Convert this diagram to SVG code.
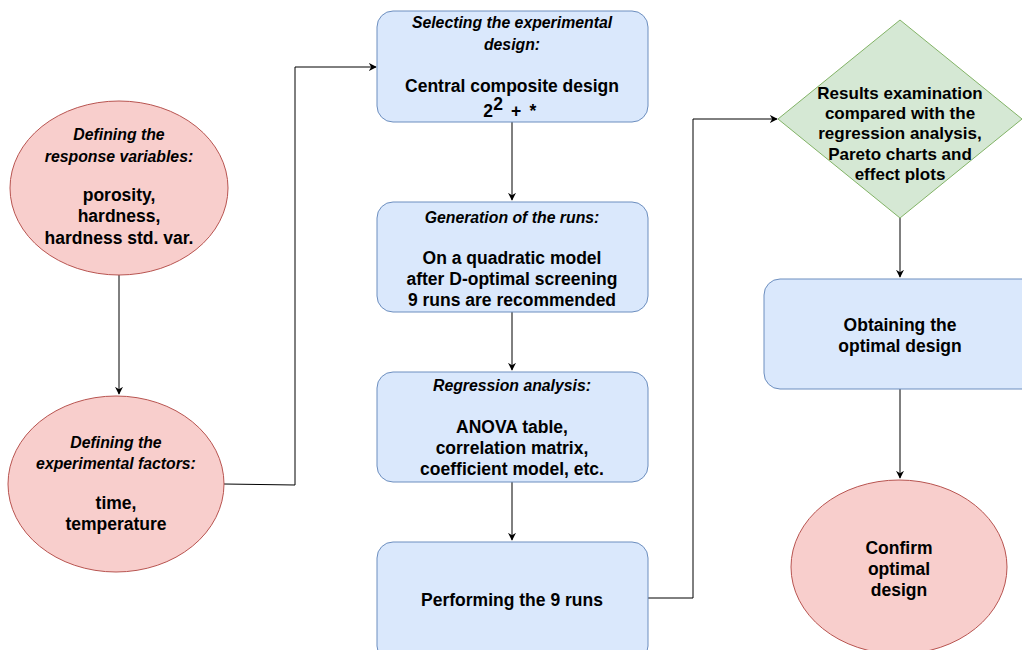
<svg xmlns="http://www.w3.org/2000/svg" width="1022" height="650" viewBox="0 0 1022 650">
  <style>
    .blue { fill: #dae8fc; stroke: #6c8ebf; stroke-width: 1; }
    .red { fill: #f8cecc; stroke: #b85450; stroke-width: 1; }
    .green { fill: #d5e8d4; stroke: #82b366; stroke-width: 1; }
    text { font-family: "Liberation Sans", Arial, Helvetica, sans-serif; font-weight: bold; font-size: 17.5px; fill: #000; text-anchor: middle; }
    .it { font-style: italic; font-size: 15.8px; }
    .dia { font-size: 17px; }
    .edge { fill: none; stroke: #000; stroke-width: 1; }
  </style>
  <defs>
    <marker id="arrow" viewBox="0 0 10 10" refX="9" refY="5" markerWidth="8" markerHeight="8" markerUnits="userSpaceOnUse" orient="auto">
      <path d="M0,0 L10,5 L0,10 L3,5 Z" fill="#000"/>
    </marker>
  </defs>
  <rect width="1022" height="650" fill="#fff"/>

  <g id="connectors">
    <path class="edge" d="M119,275 L119,394" marker-end="url(#arrow)"/>
    <path class="edge" d="M224,484 L295,485 L295,67 L376,67" marker-end="url(#arrow)"/>
    <path class="edge" d="M512,122 L512,200" marker-end="url(#arrow)"/>
    <path class="edge" d="M512,312 L512,370" marker-end="url(#arrow)"/>
    <path class="edge" d="M512,482 L512,540" marker-end="url(#arrow)"/>
    <path class="edge" d="M648,598 L693,598 L693,119 L777,119" marker-end="url(#arrow)"/>
    <path class="edge" d="M900,218 L900,277" marker-end="url(#arrow)"/>
    <path class="edge" d="M900,389 L900,478" marker-end="url(#arrow)"/>
  </g>

  <g id="response-variables">
    <ellipse class="red" cx="119" cy="188" rx="109" ry="87"/>
    <text class="it" x="119" y="140">Defining the</text>
    <text class="it" x="119" y="162">response variables:</text>
    <text x="119" y="201">porosity,</text>
    <text x="119" y="222">hardness,</text>
    <text x="119" y="244">hardness std. var.</text>
  </g>

  <g id="experimental-factors">
    <ellipse class="red" cx="116" cy="484" rx="108" ry="88"/>
    <text class="it" x="116" y="448">Defining the</text>
    <text class="it" x="116" y="469">experimental factors:</text>
    <text x="116" y="509">time,</text>
    <text x="116" y="530">temperature</text>
  </g>

  <g id="experimental-design">
    <rect class="blue" x="377" y="11" width="271" height="111" rx="16"/>
    <text class="it" x="512" y="28">Selecting the experimental</text>
    <text class="it" x="512" y="50">design:</text>
    <text x="512" y="92">Central composite design</text>
    <text x="488" y="117">2</text>
    <text x="498" y="110" font-size="11px">2</text>
    <text x="516" y="117">+</text>
    <text x="533" y="117">*</text>
  </g>

  <g id="runs-generation">
    <rect class="blue" x="377" y="202" width="271" height="110" rx="16"/>
    <text class="it" x="512" y="223">Generation of the runs:</text>
    <text x="512" y="264">On a quadratic model</text>
    <text x="512" y="285">after D-optimal screening</text>
    <text x="512" y="306">9 runs are recommended</text>
  </g>

  <g id="regression-analysis">
    <rect class="blue" x="377" y="372" width="271" height="110" rx="16"/>
    <text class="it" x="512" y="391">Regression analysis:</text>
    <text x="512" y="433">ANOVA table,</text>
    <text x="512" y="454">correlation matrix,</text>
    <text x="512" y="475">coefficient model, etc.</text>
  </g>

  <g id="performing-runs">
    <rect class="blue" x="377" y="542" width="271" height="120" rx="16"/>
    <text x="512" y="606">Performing the 9 runs</text>
  </g>

  <g id="results-examination">
    <polygon class="green" points="900,20 1022,119 900,218 778,119"/>
    <text class="dia" x="900" y="99">Results examination</text>
    <text class="dia" x="900" y="119">compared with the</text>
    <text class="dia" x="900" y="139">regression analysis,</text>
    <text class="dia" x="900" y="160">Pareto charts and</text>
    <text class="dia" x="900" y="180">effect plots</text>
  </g>

  <g id="optimal-design">
    <rect class="blue" x="764" y="279" width="280" height="110" rx="16"/>
    <text x="900" y="331">Obtaining the</text>
    <text x="900" y="352">optimal design</text>
  </g>

  <g id="confirm-design">
    <ellipse class="red" cx="899" cy="567" rx="108" ry="87"/>
    <text x="899" y="554">Confirm</text>
    <text x="899" y="575">optimal</text>
    <text x="899" y="596">design</text>
  </g>
</svg>
